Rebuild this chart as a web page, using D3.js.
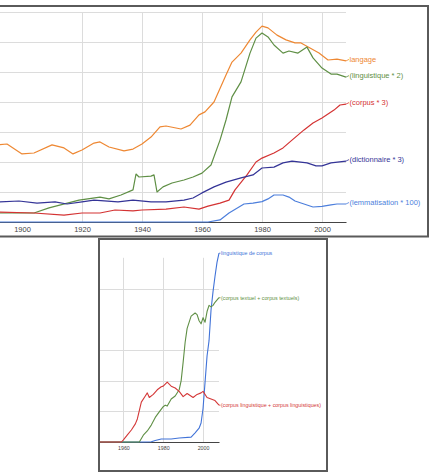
<!DOCTYPE html>
<html>
<head>
<meta charset="utf-8">
<script src="https://cdn.jsdelivr.net/npm/d3@7"></script>
<style>
  html, body { margin: 0; padding: 0; background: #fff; }
  svg { display: block; }
  text { font-family: "Liberation Sans", Arial, sans-serif; }
</style>
</head>
<body>
<svg id="chart" width="433" height="475"></svg>
<script>
// ---------- Top chart data (year, relative frequency in grid units) ----------
const topTickYears = [1900, 1920, 1940, 1960, 1980, 2000];
const topGridYears = [1920, 1940, 1960, 1980, 2000];
const topGridValues = [1, 2, 3, 4, 5, 6, 7];

const langage = [[1892,2.57],[1895,2.60],[1900,2.27],[1904,2.30],[1910,2.57],[1914,2.47],[1917,2.27],[1920,2.40],[1924,2.63],[1926,2.67],[1929,2.50],[1934,2.37],[1937,2.43],[1940,2.60],[1943,2.83],[1946,3.17],[1948,3.20],[1953,3.10],[1956,3.23],[1959,3.57],[1961,3.67],[1964,4.00],[1966,4.45],[1968,4.90],[1970,5.33],[1973,5.63],[1976,6.07],[1978,6.33],[1980,6.53],[1982,6.47],[1985,6.23],[1988,6.07],[1991,5.97],[1993,5.97],[1996,5.80],[1999,5.63],[2002,5.40],[2005,5.43],[2008,5.37]];
const linguistique2 = [[1892,0.30],[1904,0.30],[1909,0.47],[1919,0.73],[1926,0.83],[1929,0.77],[1933,0.90],[1937,1.07],[1938,1.60],[1939,1.50],[1943,1.53],[1944,1.57],[1945,1.00],[1947,1.17],[1950,1.30],[1954,1.40],[1957,1.50],[1960,1.63],[1963,1.90],[1966,2.73],[1968,3.40],[1970,4.17],[1973,4.67],[1976,5.63],[1978,6.13],[1980,6.30],[1982,6.17],[1984,5.90],[1987,5.63],[1989,5.70],[1992,5.63],[1995,5.83],[1997,5.47],[2000,5.13],[2003,4.93],[2005,4.93],[2008,4.83]];
const corpus3 = [[1892,0.33],[1904,0.30],[1914,0.23],[1920,0.30],[1926,0.30],[1931,0.40],[1937,0.37],[1940,0.40],[1948,0.43],[1954,0.50],[1959,0.43],[1962,0.53],[1966,0.63],[1969,0.73],[1971,1.07],[1975,1.57],[1978,2.00],[1980,2.13],[1984,2.30],[1987,2.47],[1990,2.73],[1994,3.07],[1997,3.30],[2000,3.47],[2004,3.73],[2006,3.90],[2008,3.93]];
const dictionnaire3 = [[1892,0.67],[1899,0.70],[1905,0.63],[1911,0.67],[1915,0.60],[1920,0.67],[1924,0.73],[1932,0.67],[1937,0.73],[1943,0.67],[1948,0.67],[1954,0.73],[1957,0.80],[1960,0.97],[1964,1.17],[1968,1.33],[1973,1.47],[1977,1.57],[1980,1.80],[1984,1.83],[1987,1.97],[1990,2.03],[1995,1.97],[1998,1.87],[2000,1.87],[2003,1.97],[2008,2.03]];
const lemmatisation100 = [[1892,0],[1962,0],[1966,0.07],[1969,0.30],[1974,0.60],[1977,0.63],[1980,0.68],[1982,0.77],[1984,0.90],[1987,0.90],[1989,0.83],[1991,0.70],[1994,0.60],[1997,0.50],[2000,0.52],[2003,0.57],[2005,0.60],[2008,0.60]];

const topSeriesNames = ["langage", "(linguistique * 2)", "(corpus * 3)", "(dictionnaire * 3)", "(lemmatisation * 100)"];
const topSeriesColors = ["#ee8833", "#5f8f45", "#d43333", "#343497", "#4d7fdc"];
const topSeriesData = [langage, linguistique2, corpus3, dictionnaire3, lemmatisation100];

// ---------- Bottom chart data ----------
const botTickYears = [1960, 1980, 2000];
const botGridValues = [1, 2, 3, 5];

const linguistiqueDeCorpus = [[1948,0],[1970,0],[1974,0.01],[1976,0.05],[1979,0.10],[1984,0.10],[1988,0.13],[1994,0.16],[1996,0.30],[1998,0.45],[1999,0.62],[2000,1.10],[2001,1.95],[2002,2.80],[2003,3.30],[2004,4.30],[2005,4.90],[2006,5.40],[2007,5.85],[2008,6.15]];
const corpusTextuel = [[1948,0],[1968,0],[1970,0.22],[1972,0.36],[1974,0.55],[1976,0.80],[1978,0.98],[1980,1.15],[1981,1.20],[1982,1.17],[1984,1.40],[1986,1.50],[1988,1.70],[1989,2.00],[1990,2.60],[1991,3.25],[1992,3.70],[1994,4.10],[1996,4.20],[1997,4.15],[1998,3.95],[1999,3.85],[2000,4.05],[2001,3.90],[2002,4.25],[2003,4.45],[2004,4.40],[2005,4.45],[2006,4.55],[2008,4.70]];
const corpusLinguistique = [[1948,0],[1959,0],[1960,0.07],[1962,0.23],[1964,0.39],[1966,0.59],[1967,0.75],[1969,1.30],[1971,1.50],[1972,1.60],[1973,1.45],[1975,1.55],[1977,1.70],[1979,1.80],[1980,1.82],[1982,1.95],[1984,1.82],[1986,1.76],[1988,1.65],[1990,1.48],[1992,1.58],[1995,1.45],[1997,1.55],[1999,1.60],[2000,1.65],[2002,1.45],[2004,1.40],[2006,1.35],[2008,1.20]];

const botSeriesNames = ["linguistique de corpus", "(corpus textuel + corpus textuels)", "(corpus linguistique + corpus linguistiques)"];
const botSeriesColors = ["#4173d8", "#5f8f45", "#d43838"];
const botSeriesData = [linguistiqueDeCorpus, corpusTextuel, corpusLinguistique];

// ---------- Drawing ----------
const svg = d3.select("#chart");

function drawPanel(opt) {
  const g = svg.append("g");
  const x = d3.scaleLinear().domain(opt.xDomain).range(opt.xRange);
  const y = d3.scaleLinear().domain(opt.yDomain).range(opt.yRange);

  // horizontal gridlines
  g.append("g").selectAll("line").data(opt.gridValues).join("line")
    .attr("x1", opt.xRange[0]).attr("x2", opt.xRange[1])
    .attr("y1", d => Math.round(y(d)) + 0.5).attr("y2", d => Math.round(y(d)) + 0.5)
    .attr("stroke", "#dcdcdc").attr("stroke-width", 1);
  // vertical gridlines
  g.append("g").selectAll("line").data(opt.gridYears).join("line")
    .attr("x1", d => Math.round(x(d)) + 0.5).attr("x2", d => Math.round(x(d)) + 0.5)
    .attr("y1", opt.yRange[1]).attr("y2", opt.yRange[0])
    .attr("stroke", "#dcdcdc").attr("stroke-width", 1);

  // x axis
  const axis = d3.axisBottom(x).tickValues(opt.tickYears).tickFormat(d3.format("d"))
    .tickSize(0).tickPadding(opt.tickPad);
  const ax = g.append("g").attr("transform", `translate(0,${opt.yRange[0]})`).call(axis);
  ax.select(".domain").attr("stroke", "#444").attr("stroke-width", 1.2);
  ax.selectAll("text").attr("fill", "#444").style("font-size", opt.tickFont + "px")
    .style("font-family", "'Liberation Sans', Arial, sans-serif");

  // lines
  const line = d3.line().x(d => x(d[0])).y(d => y(d[1]));
  opt.data.forEach((s, i) => {
    g.append("path").datum(s).attr("d", line)
      .attr("fill", "none").attr("stroke", opt.colors[i])
      .attr("stroke-width", opt.lineWidth).attr("stroke-linejoin", "round");
    const last = s[s.length - 1];
    const lx = x(last[0]), ly = y(last[1]);
    g.append("line").attr("x1", lx).attr("y1", ly)
      .attr("x2", lx + opt.labelGap).attr("y2", ly - opt.labelLift)
      .attr("stroke", opt.colors[i]).attr("stroke-width", 0.8);
    g.append("text").attr("x", lx + opt.labelGap + 0.5).attr("y", ly - opt.labelLift)
      .attr("dy", "0.35em").attr("fill", opt.colors[i])
      .style("font-size", opt.labelFont + "px").text(opt.names[i]);
  });

  // frame
  g.append("rect").attr("x", opt.frame[0]).attr("y", opt.frame[1])
    .attr("width", opt.frame[2]).attr("height", opt.frame[3])
    .attr("fill", "none").attr("stroke", "#5a5a5a").attr("stroke-width", 2);
}

drawPanel({
  xDomain: [1890, 2008], xRange: [-8, 346],
  yDomain: [0, 7], yRange: [222, 12],
  gridValues: topGridValues, gridYears: topGridYears, tickYears: topTickYears,
  tickPad: 5, tickFont: 7.5, labelFont: 7.5, lineWidth: 1.2,
  labelGap: 3, labelLift: 1.5,
  data: topSeriesData, colors: topSeriesColors, names: topSeriesNames,
  frame: [-10, 6, 438, 230.5]
});

drawPanel({
  xDomain: [1948, 2008], xRange: [99.5, 219],
  yDomain: [0, 6], yRange: [442, 257.8],
  gridValues: botGridValues, gridYears: botTickYears, tickYears: botTickYears,
  tickPad: 4, tickFont: 5.3, labelFont: 5.3, lineWidth: 1.1,
  labelGap: 1.5, labelLift: 0,
  data: botSeriesData, colors: botSeriesColors, names: botSeriesNames,
  frame: [99, 239, 228, 232]
});
</script>
</body>
</html>
